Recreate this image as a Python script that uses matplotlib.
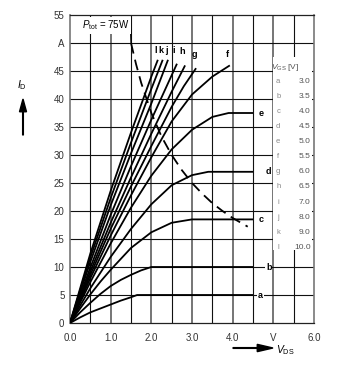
import matplotlib
matplotlib.use("Agg")
import matplotlib.pyplot as plt
from matplotlib.patches import Rectangle

plt.rcParams['font.family'] = ['Liberation Sans', 'DejaVu Sans']
plt.rcParams['mathtext.fontset'] = 'custom'
plt.rcParams['mathtext.rm'] = 'Liberation Sans'
plt.rcParams['mathtext.it'] = 'Liberation Sans:italic'

# ---------------- data ----------------
curve_names = ['a', 'b', 'c', 'd', 'e', 'f', 'g', 'h', 'i', 'j', 'k', 'l']
vgs_values = ['3.0', '3.5', '4.0', '4.5', '5.0', '5.5', '6.0', '6.5', '7.0', '8.0', '9.0', '10.0']

vds_a = [0, 0.25, 0.5, 0.75, 1.0, 1.25, 1.5, 1.65, 4.5]
id_a = [0, 1.0, 1.9, 2.6, 3.3, 4.0, 4.6, 5.0, 5.0]
vds_b = [0, 0.25, 0.5, 0.75, 1.0, 1.25, 1.5, 1.75, 2.0, 4.5]
id_b = [0, 1.9, 3.6, 5.2, 6.6, 7.7, 8.6, 9.4, 10.0, 10.0]
vds_c = [0, 0.25, 0.5, 0.75, 1.0, 1.5, 2.0, 2.5, 3.0, 4.5]
id_c = [0, 2.6, 5.1, 7.4, 9.5, 13.4, 16.2, 17.9, 18.5, 18.5]
vds_d = [0, 0.5, 1.0, 1.5, 2.0, 2.5, 3.0, 3.4, 4.5]
id_d = [0, 6.2, 11.8, 16.8, 21.2, 24.6, 26.4, 27.0, 27.0]
vds_e = [0, 0.5, 1.0, 1.5, 2.0, 2.5, 3.0, 3.5, 3.9, 4.5]
id_e = [0, 7.3, 14.2, 20.6, 26.3, 31.0, 34.5, 36.8, 37.5, 37.5]
vds_f = [0, 0.5, 1.0, 1.5, 2.0, 2.5, 3.0, 3.5, 3.93]
id_f = [0, 8.0, 15.6, 22.8, 29.6, 36.0, 40.8, 44.0, 46.0]
vds_g = [0, 0.5, 1.0, 1.5, 2.0, 2.5, 2.8, 3.1]
id_g = [0, 8.6, 16.8, 24.4, 31.6, 38.6, 42.3, 45.5]
vds_h = [0, 0.5, 1.0, 1.5, 2.0, 2.5, 2.83]
id_h = [0, 9.2, 17.9, 26.0, 33.8, 41.3, 46.0]
vds_i = [0, 0.5, 1.0, 1.5, 2.0, 2.63]
id_i = [0, 9.9, 19.3, 28.0, 36.3, 46.3]
vds_j = [0, 0.5, 1.0, 1.5, 2.0, 2.41]
id_j = [0, 10.9, 21.0, 30.3, 39.2, 47.0]
vds_k = [0, 0.5, 1.0, 1.5, 2.0, 2.28]
id_k = [0, 11.7, 22.3, 32.2, 41.8, 47.0]
vds_l = [0, 0.5, 1.0, 1.5, 2.0, 2.16]
id_l = [0, 12.4, 23.6, 34.0, 44.0, 47.0]

# P_tot = 75 W limit
vds_ptot = [1.5, 1.625, 1.75, 2.0, 2.25, 2.5, 2.75, 3.0, 3.25, 3.5, 3.75, 4.0, 4.37]
id_ptot = [50.0, 46.2, 42.9, 37.5, 33.3, 30.0, 27.3, 25.0, 23.1, 21.4, 20.0, 18.75, 17.2]

x_ticks = [0, 1, 2, 3, 4, 5, 6]
x_ticklabels = ['0.0', '1.0', '2.0', '3.0', '4.0', 'V', '6.0']
y_ticks = [0, 5, 10, 15, 20, 25, 30, 35, 40, 45, 50, 55]
y_ticklabels = ['0', '5', '10', '15', '20', '25', '30', '35', '40', '45', 'A', '55']

curves = [(vds_a, id_a), (vds_b, id_b), (vds_c, id_c), (vds_d, id_d), (vds_e, id_e),
          (vds_f, id_f), (vds_g, id_g), (vds_h, id_h), (vds_i, id_i), (vds_j, id_j),
          (vds_k, id_k), (vds_l, id_l)]

# label positions (V, A)
label_pos = {'a': (4.69, 4.9), 'b': (4.89, 10.0), 'c': (4.69, 18.4), 'd': (4.89, 27.0),
             'e': (4.69, 37.5), 'f': (3.86, 48.0), 'g': (3.07, 48.0), 'h': (2.75, 48.4),
             'i': (2.56, 48.6), 'j': (2.37, 48.6), 'k': (2.24, 48.6), 'l': (2.11, 48.6)}

# ---------------- figure ----------------
fig = plt.figure(figsize=(3.5, 3.65), dpi=100)
ax = fig.add_axes([70/350, 42/365, 244/350, 308/365])
ax.set_xlim(0, 6)
ax.set_ylim(0, 55)

# grid
for v in [0.5 * k for k in range(1, 12)]:
    if abs(v - round(v)) < 1e-9:
        ax.axvline(v, color='#6a6a6a', lw=1.3, zorder=1)
    else:
        ax.axvline(v, color='#111111', lw=0.8, zorder=1)
for yv in range(5, 55, 5):
    ax.axhline(yv, color='#111111', lw=0.8, zorder=1)

for s in ['left', 'right']:
    ax.spines[s].set_color('#777777')
    ax.spines[s].set_linewidth(1.2)
for s in ['top', 'bottom']:
    ax.spines[s].set_color('#222222')
    ax.spines[s].set_linewidth(0.9)

ax.set_xticks(x_ticks)
ax.set_xticklabels(x_ticklabels)
ax.set_yticks(y_ticks)
ax.set_yticklabels(y_ticklabels)
ax.tick_params(length=0, labelsize=7, colors='#333333', pad=4)
ax.tick_params(axis='x', pad=7)

# legend box (white) covering grid
ax.add_patch(Rectangle((4.98, 13.0), 0.96, 34.5, facecolor='white', edgecolor='none', zorder=2))

# curves
for (vx, iy) in curves:
    ax.plot(vx, iy, color='black', lw=1.3, zorder=3, solid_capstyle='butt')

# labels on curves
for name in curve_names:
    x, y = label_pos[name]
    ax.text(x, y, name, fontsize=6.5, fontweight='bold', ha='center', va='center', zorder=5,
            bbox=dict(facecolor='white', edgecolor='none', pad=0.6) if name in 'abcde' else None)

# P_tot dashed line
ax.plot(vds_ptot, id_ptot, color='black', lw=1.3, dashes=(6, 3.5), zorder=4)
ax.plot([1.49, 1.5], [52.4, 50.0], color='black', lw=0.9, zorder=4)
ax.text(0.3, 53.2, r'$P_{\rm tot}$ = 75W', fontsize=7, ha='left', va='center', zorder=5,
        bbox=dict(facecolor='white', edgecolor='none', pad=1.2))

# legend table
ax.text(4.94, 45.7, r'$V_{\rm GS}$ [V]', fontsize=6, color='#555555', ha='left', va='center', zorder=5)
for k, (name, val) in enumerate(zip(curve_names, vgs_values)):
    yy = 43.2 - 2.7 * k
    ax.text(5.12, yy, name, fontsize=5.5, color='#888888', ha='center', va='center', zorder=5)
    ax.text(5.92, yy, val, fontsize=6, color='#555555', ha='right', va='center', zorder=5)

# axis titles with arrows
fig.text(22/350, 1 - 85/365, r'$I_{\rm D}$', fontsize=7.5, ha='center', va='center')
fig.patches.append(matplotlib.patches.FancyArrow(
    23/350, 1 - 135/365, 0, 36/365, width=0.002, head_width=0.02, head_length=0.035,
    length_includes_head=True, color='black', transform=fig.transFigure, figure=fig))
fig.text(285/350, 1 - 350/365, r'$V_{\rm DS}$', fontsize=7.5, ha='center', va='center')
fig.patches.append(matplotlib.patches.FancyArrow(
    233/350, 1 - 348/365, 40/350, 0, width=0.002, head_width=0.02, head_length=0.045,
    length_includes_head=True, color='black', transform=fig.transFigure, figure=fig))

fig.savefig('out.png', dpi=100)
